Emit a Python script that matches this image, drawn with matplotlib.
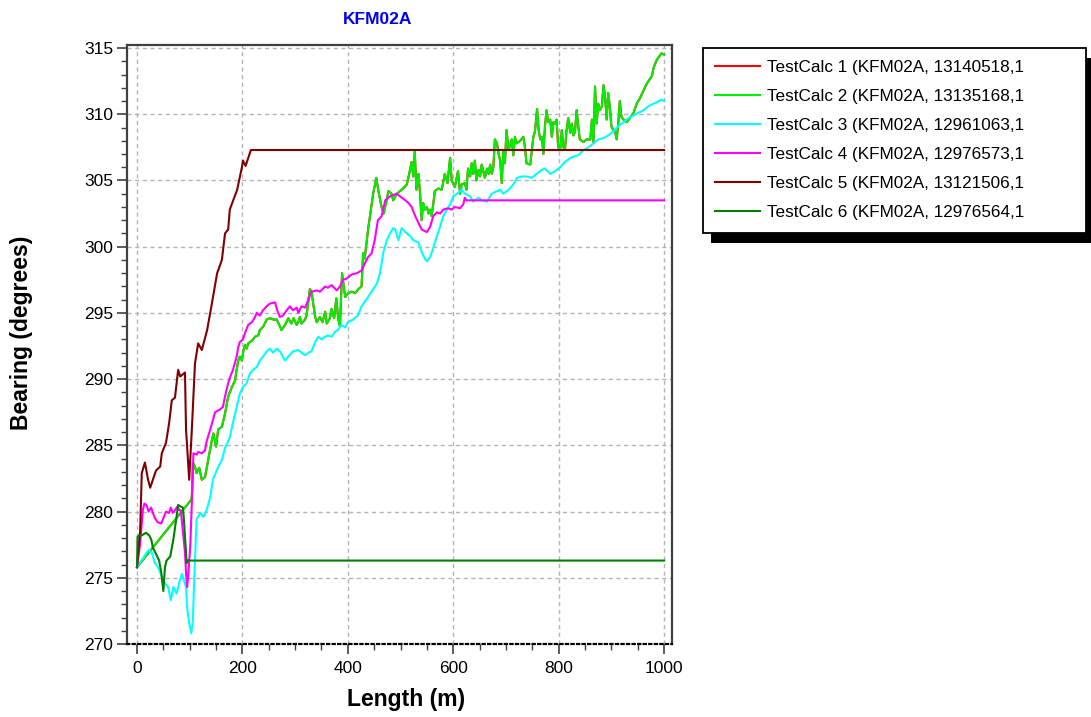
import matplotlib
matplotlib.use("Agg")
import matplotlib.pyplot as plt
from matplotlib.patches import Rectangle
from matplotlib.ticker import MultipleLocator

plt.rcParams['font.family'] = ['Liberation Sans', 'DejaVu Sans']

# ---------------------------------------------------------------- datos
nombres = ['TestCalc 1 (KFM02A, 13140518,1',
           'TestCalc 2 (KFM02A, 13135168,1',
           'TestCalc 3 (KFM02A, 12961063,1',
           'TestCalc 4 (KFM02A, 12976573,1',
           'TestCalc 5 (KFM02A, 13121506,1',
           'TestCalc 6 (KFM02A, 12976564,1']
colores = ['#ff0000', '#00ee00', '#00ffff', '#ff00ff', '#800000', '#008000']

# TestCalc 2 (el 1 queda casi todo debajo de este)
x2 = [0, 103, 104, 106, 110, 113, 118, 123, 129, 135, 142, 145, 150, 154, 161,
      167, 173, 180, 186, 189, 192, 195, 199, 202, 205, 208, 211, 218, 224, 230,
      233, 240, 246, 252, 259, 265, 271, 274, 281, 287, 293, 297, 303, 306, 309,
      312, 319, 322, 328, 331, 338, 341, 347, 352, 357, 360, 366, 369, 374, 378,
      382, 385, 389, 395, 401, 407, 414, 420, 426, 429, 432, 439, 442, 448, 454,
      458, 464, 468, 473, 477, 483, 486, 493, 499, 505, 512, 518, 521, 524, 527,
      530, 534, 537, 540, 543, 546, 550, 553, 556, 559, 562, 565, 572, 578, 584,
      589, 594, 597, 603, 609, 613, 616, 622, 625, 628, 632, 635, 638, 641, 644,
      648, 651, 654, 660, 664, 667, 670, 673, 676, 679, 683, 686, 689, 692, 695,
      698, 701, 705, 711, 714, 717, 720, 727, 733, 736, 739, 746, 752, 755, 759,
      762, 765, 768, 771, 774, 777, 780, 784, 787, 790, 793, 796, 799, 803, 806,
      809, 812, 815, 818, 822, 825, 828, 831, 834, 837, 840, 847, 853, 860, 863,
      866, 869, 872, 875, 878, 882, 885, 888, 891, 894, 897, 900, 904, 907, 910,
      913, 916, 919, 923, 929, 935, 942, 948, 954, 961, 967, 977, 980, 986, 995,
      1000]
y2 = [275.8, 280.9, 281.1, 283.7, 283.4, 282.9, 283.3, 282.4, 282.6, 283.9,
      285.4, 285.9, 284.9, 286.2, 286.4, 287.4, 288.7, 289.4, 289.9, 290.7,
      291.4, 291.7, 291.4, 292.2, 292.6, 292.3, 292.7, 292.9, 293.2, 293.3,
      293.7, 294.0, 294.5, 294.6, 294.5, 294.5, 294.0, 293.7, 294.1, 294.6,
      294.2, 294.6, 294.1, 294.3, 294.7, 294.2, 294.5, 294.9, 296.8, 296.6,
      294.7, 294.3, 294.7, 294.3, 295.1, 294.2, 294.6, 295.3, 294.6, 296.1,
      294.5, 294.0, 298.0, 296.2, 296.5, 296.6, 296.5, 296.8, 297.0, 299.5,
      299.1, 301.5, 302.3, 304.0, 305.2, 304.2, 303.0, 302.5, 303.4, 304.2,
      304.0, 303.5, 304.0, 304.2, 304.4, 304.7, 305.8, 306.4, 305.3, 307.2,
      304.3, 305.5, 304.0, 302.0, 303.3, 302.8, 303.0, 302.5, 302.8, 302.3,
      303.2, 304.2, 304.4, 304.3, 305.5, 304.8, 306.7, 305.0, 304.5, 305.7,
      304.0, 304.7, 304.8, 304.3, 305.9, 305.3, 306.3, 305.5, 306.5, 305.0,
      305.8, 305.3, 306.2, 305.2, 305.9, 305.5, 306.2, 305.5, 306.0, 308.1,
      307.8, 307.0, 306.5, 304.8, 307.3, 306.3, 308.8, 307.3, 308.1, 306.9,
      308.3, 307.8, 308.0, 308.3, 307.5, 306.3, 306.2, 308.3, 308.7, 310.4,
      308.8, 308.1, 308.3, 307.0, 309.1, 310.3, 309.4, 309.6, 308.3, 309.4,
      309.3, 309.6, 307.5, 307.4, 308.8, 307.5, 307.4, 308.8, 309.7, 308.6,
      309.3, 308.4, 308.7, 310.3, 309.2, 308.1, 307.9, 308.1, 308.1, 309.6,
      307.9, 312.1, 309.3, 310.8, 310.3, 310.6, 312.2, 311.3, 309.6, 311.6,
      310.6, 309.1, 308.8, 308.7, 308.1, 309.3, 311.0, 309.8, 309.6, 309.4,
      309.7, 310.1, 310.8, 311.2, 311.8, 312.3, 312.9, 313.5, 314.1, 314.6,
      314.5]

# TestCalc 1 coincide con el 2
x1 = list(x2)
y1 = list(y2)

# TestCalc 3
x3 = [0, 6, 12, 18, 23, 28, 34, 40, 47, 53, 59, 64, 69, 75, 80, 85, 89, 93, 95,
      99, 103, 106, 108, 111, 113, 120, 126, 132, 139, 144, 151, 161, 167, 176,
      182, 189, 195, 201, 208, 214, 220, 227, 233, 239, 246, 252, 258, 265, 271,
      281, 287, 296, 306, 312, 319, 325, 331, 338, 344, 350, 357, 362, 369, 376,
      381, 388, 395, 400, 410, 419, 426, 435, 445, 455, 461, 467, 474, 480, 486,
      490, 496, 502, 509, 518, 524, 534, 540, 546, 550, 556, 562, 569, 575, 581,
      588, 594, 600, 607, 616, 622, 632, 638, 648, 654, 664, 673, 683, 689, 695,
      705, 714, 721, 730, 739, 749, 758, 768, 774, 784, 793, 803, 812, 822, 828,
      837, 847, 856, 866, 875, 885, 894, 904, 913, 923, 932, 942, 951, 961, 970,
      980, 986, 995, 1000]
y3 = [275.8, 276.2, 276.5, 276.9, 277.1, 276.9, 276.1, 275.8, 275.1, 274.6,
      274.3, 273.3, 274.3, 273.8, 274.6, 275.3, 274.8, 274.3, 272.8, 271.6,
      270.8, 271.8, 274.3, 277.3, 279.4, 279.9, 279.6, 280.1, 281.1, 282.4,
      283.1, 283.9, 284.8, 285.6, 286.7, 287.9, 288.9, 289.4, 289.7, 290.4,
      290.7, 290.9, 291.4, 291.7, 292.1, 292.3, 292.0, 292.3, 292.1, 291.4,
      291.7, 292.1, 292.2, 292.0, 291.8, 292.0, 292.1, 292.8, 293.2, 293.0,
      293.2, 293.3, 293.2, 293.6, 293.7, 294.1, 293.9, 294.3, 294.5, 294.8,
      295.5, 296.0, 296.6, 297.2, 298.0, 299.5, 300.5, 301.0, 301.4, 301.3,
      300.5, 301.4, 301.1, 300.8, 300.5, 300.3, 299.6, 299.1, 298.9, 299.2,
      299.9, 300.8, 301.5, 302.3, 302.8, 303.2, 303.8, 304.0, 304.3, 304.0,
      303.8, 303.4, 303.7, 303.5, 303.4, 304.0, 304.2, 304.3, 304.0, 304.3,
      304.7, 305.2, 305.3, 305.3, 305.2, 305.5, 305.8, 305.9, 305.5, 305.7,
      306.0, 306.4, 306.7, 306.8, 306.9, 307.3, 307.5, 307.8, 308.1, 308.2,
      308.4, 308.7, 309.1, 309.4, 309.7, 309.9, 310.1, 310.3, 310.6, 310.8,
      310.9, 311.1, 311.0]

# TestCalc 4
x4 = [0, 6, 11, 14, 18, 22, 27, 30, 34, 39, 46, 51, 55, 61, 64, 68, 72, 77, 80,
      83, 91, 93, 95, 97, 101, 104, 106, 107, 113, 116, 123, 129, 132, 139, 144,
      148, 157, 163, 167, 173, 176, 182, 189, 192, 195, 201, 205, 211, 218, 224,
      227, 233, 239, 246, 252, 262, 266, 271, 277, 284, 290, 296, 303, 306, 312,
      319, 325, 331, 341, 347, 357, 362, 369, 379, 385, 391, 398, 407, 417, 426,
      433, 438, 445, 451, 457, 464, 471, 480, 486, 493, 499, 509, 515, 521, 528,
      534, 540, 550, 556, 562, 569, 575, 581, 590, 597, 603, 613, 619, 622, 625,
      1000]
y4 = [275.8, 277.6, 280.1, 280.6, 280.5, 280.0, 280.3, 279.9, 279.5, 279.2,
      279.1, 279.6, 280.0, 279.9, 280.3, 279.9, 280.1, 280.4, 280.1, 280.1,
      276.9, 275.4, 274.3, 275.1, 277.4, 280.6, 283.1, 284.4, 284.3, 284.5,
      284.4, 284.6, 285.3, 286.2, 286.9, 287.5, 287.7, 287.9, 288.7, 289.7,
      290.1, 290.7, 291.7, 292.4, 292.8, 293.0, 293.5, 294.1, 294.3, 294.7,
      295.0, 294.8, 295.2, 295.5, 295.7, 295.8, 295.2, 294.7, 294.8, 295.2,
      295.5, 295.2, 295.4, 295.0, 295.5, 295.4, 296.0, 296.6, 296.7, 296.6,
      297.0, 296.9, 297.1, 296.7, 297.0, 297.5, 297.6, 297.9, 298.0, 298.2,
      298.8, 299.2, 299.5, 300.5, 302.0, 302.3, 303.5, 303.8, 303.9, 304.0,
      303.8, 303.5, 303.3, 303.0, 302.3, 301.8, 301.3, 301.1, 301.5, 302.3,
      302.6, 302.5, 302.8, 302.9, 302.8, 303.0, 302.9, 303.2, 303.7, 303.5,
      303.5]

# TestCalc 5
x5 = [0, 6, 9, 15, 21, 25, 36, 44, 47, 55, 61, 66, 72, 78, 82, 91, 93, 99, 104,
      110, 116, 123, 133, 142, 152, 161, 167, 173, 176, 190, 199, 201, 206, 216,
      1000]
y5 = [275.8, 278.6, 282.9, 283.7, 282.4, 281.8, 283.1, 283.4, 284.4, 285.2,
      286.7, 288.4, 288.6, 290.7, 290.2, 290.5, 286.2, 282.4, 286.2, 291.2,
      292.7, 292.2, 293.7, 295.7, 298.0, 299.0, 301.0, 301.3, 302.8, 304.3,
      306.0, 306.5, 306.1, 307.3, 307.3]

# TestCalc 6
x6 = [0, 1, 4, 9, 17, 23, 27, 30, 36, 42, 46, 50, 53, 56, 63, 69, 75, 78, 82,
      87, 89, 91, 93, 94, 95, 1000]
y6 = [275.8, 278.1, 278.2, 278.2, 278.4, 278.2, 277.9, 277.3, 276.8, 276.3,
      275.4, 274.0, 275.8, 276.3, 276.6, 277.9, 279.6, 280.5, 280.4, 280.3,
      279.4, 278.1, 276.9, 276.1, 276.3, 276.3]

series = [(x1, y1), (x2, y2), (x3, y3), (x4, y4), (x5, y5), (x6, y6)]

# ---------------------------------------------------------------- grafico
W, H = 1091, 717
fig = plt.figure(figsize=(W / 100, H / 100), dpi=100)
ax = fig.add_axes([127 / W, 1 - 644 / H, 545 / W, 599 / H])

for (xs, ys), nom, col in zip(series, nombres, colores):
    ax.plot(xs, ys, color=col, lw=1.5, label=nom)

ax.set_xlim(-19, 1015)
ax.set_ylim(270, 315.23)
ax.xaxis.set_major_locator(MultipleLocator(200))
ax.xaxis.set_minor_locator(MultipleLocator(50))
ax.yaxis.set_major_locator(MultipleLocator(5))
ax.yaxis.set_minor_locator(MultipleLocator(1))
ax.grid(True, which='major', color='#b4b4b4', lw=1.0, ls=(0, (3, 2.5)))

ax.tick_params(which='major', length=7, width=1.2, color='#404040',
               labelsize=12.5, pad=3)
ax.tick_params(which='minor', length=4, width=1.0, color='#404040')
ax.tick_params(axis='x', which='major', pad=5)

for lado in ['left', 'right', 'top']:
    ax.spines[lado].set_color('#404040')
    ax.spines[lado].set_linewidth(1.6)
ax.spines['bottom'].set_color('black')
ax.spines['bottom'].set_linewidth(1.6)
ax.spines['bottom'].set_linestyle((0, (1, 1.5)))

ax.set_xlabel('Length (m)', fontsize=16.5, fontweight='bold')
ax.set_ylabel('Bearing (degrees)', fontsize=16.5, fontweight='bold')
ax.xaxis.set_label_coords(0.512, -0.074)
ax.yaxis.set_label_coords(-0.172, 0.52)

fig.text(378 / W, 1 - 19 / H, 'KFM02A', color='#0000ee', fontsize=12.5,
         fontweight='bold', ha='center', va='center')

# leyenda fuera de los ejes, con sombra negra
x0, y0, x1b, y1b = 703 / W, 1 - 228 / H, 1086 / W, 1 - 48 / H
leg = fig.legend(loc='upper left', bbox_to_anchor=(x0, y0, x1b - x0, y1b - y0),
                 mode='expand', fontsize=12.3, frameon=True, fancybox=False,
                 handlelength=2.6, handletextpad=0.45, labelspacing=0.82,
                 borderpad=0.72, borderaxespad=0)
leg.get_frame().set_edgecolor('black')
leg.get_frame().set_linewidth(1.3)
leg.get_frame().set_alpha(1)
leg.set_zorder(5)

fig.canvas.draw()
bb = leg.get_window_extent().transformed(fig.transFigure.inverted())
fig.patches.append(Rectangle((bb.x0 + 8 / W, bb.y0 - 10 / H), bb.width, bb.height,
                             transform=fig.transFigure, facecolor='black',
                             edgecolor='none', zorder=4))

fig.savefig('out.png', dpi=100)
